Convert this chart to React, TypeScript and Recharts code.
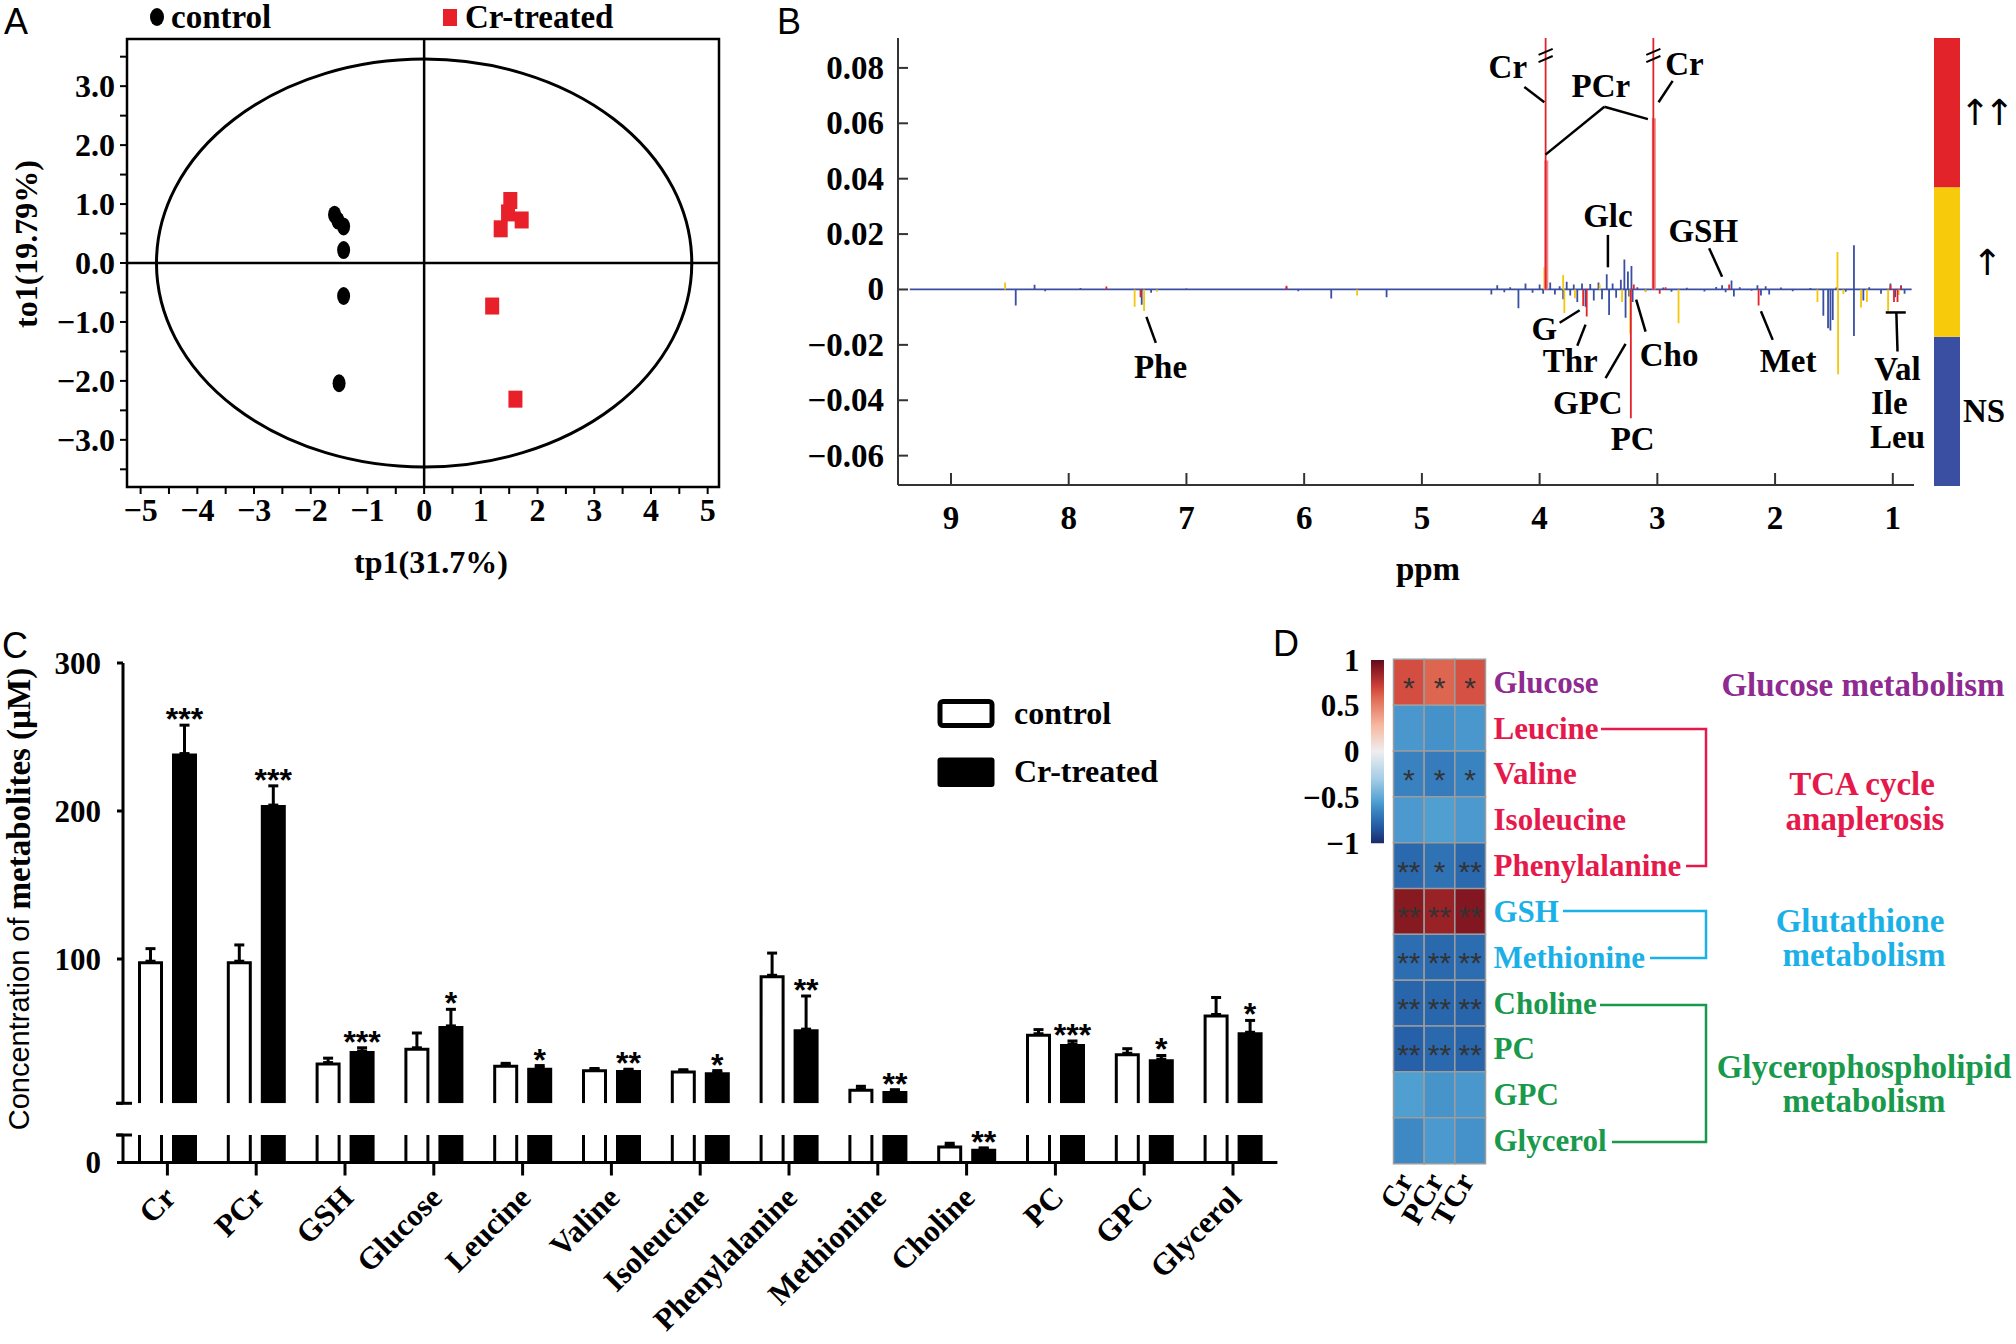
import React from 'react';
import {
  ScatterChart,
  Scatter,
  LineChart,
  Line,
  BarChart,
  Bar,
  XAxis,
  YAxis,
  ReferenceLine,
  ReferenceArea,
  ReferenceDot,
  ErrorBar,
  Cell,
  LabelList,
} from 'recharts';

const SERIF = '"Liberation Serif", "Times New Roman", serif';
const SANS = '"Liberation Sans", Arial, sans-serif';

// ---- A: OPLS-DA score plot ----
const controlScores = [
  { x: -1.58, y: 0.82 },
  { x: -1.52, y: 0.72 },
  { x: -1.42, y: 0.62 },
  { x: -1.42, y: 0.22 },
  { x: -1.42, y: -0.56 },
  { x: -1.5, y: -2.04 },
];
const treatedScores = [
  { x: 1.52, y: 1.06 },
  { x: 1.48, y: 0.85 },
  { x: 1.72, y: 0.73 },
  { x: 1.35, y: 0.58 },
  { x: 1.2, y: -0.73 },
  { x: 1.61, y: -2.31 },
];
const t2Ellipse = { x: 4.72, y: 3.46 };
const scoreXTicks = [-5, -4.5, -4, -3.5, -3, -2.5, -2, -1.5, -1, -0.5, 0, 0.5, 1, 1.5, 2, 2.5, 3, 3.5, 4, 4.5, 5];
const scoreYTicks = [-3.5, -3, -2.5, -2, -1.5, -1, -0.5, 0, 0.5, 1, 1.5, 2, 2.5, 3, 3.5];

// ---- B: colour-coded loadings (ppm, coefficient) ----
const loadingNS = [
  [8.45, -0.0058], [8.29, 0.0017], [8.2, -0.0006], [7.9, 0.0005], [7.38, -0.0055], [7.3, -0.0012],
  [7.0, 0.0004], [6.15, 0.0008], [6.05, -0.0006], [5.77, -0.0033], [5.3, -0.0028], [4.41, -0.0018],
  [4.36, 0.0015], [4.3, -0.001], [4.25, 0.0008], [4.18, -0.0068], [4.12, 0.0022], [4.06, -0.0012],
  [4.0, 0.0018], [3.97, -0.0015], [3.91, 0.0025], [3.87, -0.0018], [3.83, 0.0012], [3.8, -0.0035],
  [3.77, 0.0028], [3.74, -0.0022], [3.71, 0.0018], [3.68, -0.0045], [3.64, 0.0022], [3.61, -0.0062],
  [3.57, 0.002], [3.54, -0.004], [3.5, 0.0025], [3.47, -0.0035], [3.43, 0.0055], [3.41, -0.0092],
  [3.38, 0.0022], [3.35, -0.003], [3.31, 0.0035], [3.28, 0.0108], [3.27, -0.0102], [3.25, 0.0065],
  [3.24, -0.0025], [3.22, 0.0085], [3.21, -0.0045], [3.17, 0.0008], [3.1, -0.0006], [2.95, 0.0007],
  [2.88, -0.0008], [2.75, 0.0006], [2.6, -0.0007], [2.5, 0.0009], [2.45, 0.0015], [2.42, -0.001],
  [2.37, 0.0032], [2.35, -0.0025], [2.3, 0.0008], [2.2, -0.0005], [2.15, 0.0015], [2.12, -0.0022],
  [2.08, 0.0012], [2.05, -0.0018], [1.95, 0.0007], [1.85, -0.0006], [1.7, 0.0005], [1.59, -0.0095],
  [1.55, -0.014], [1.53, -0.0148], [1.51, -0.011], [1.48, 0.0007], [1.4, -0.0008], [1.33, 0.016],
  [1.33, -0.0168], [1.25, -0.004], [1.2, 0.0008], [1.1, -0.0015], [1.02, 0.0022], [0.98, -0.0028],
  [0.93, 0.0015], [0.9, -0.0015],
];
const loadingUp = [
  [8.54, 0.0025], [7.44, -0.0062], [7.36, -0.0078], [7.25, -0.0008], [5.55, -0.0022], [3.96, 0.008],
  [3.8, 0.0052], [3.79, -0.0085], [3.7, -0.0032], [3.49, 0.0018], [3.3, -0.0045], [3.23, -0.016],
  [3.1, -0.001], [2.82, -0.0122], [1.64, -0.0045], [1.47, 0.0135], [1.465, -0.0306], [1.42, -0.0016],
  [1.27, -0.0065], [1.22, -0.0045], [1.04, -0.0078], [0.95, -0.002],
];
const loadingUp2 = [
  [7.68, 0.0011], [7.39, -0.0028], [6.15, 0.0013], [3.949, 0.12], [3.63, -0.006], [3.6, -0.0098],
  [3.034, 0.12], [3.225, -0.0465], [3.2, 0.0018], [2.98, -0.0015], [2.93, 0.0008], [2.39, 0.0018],
  [2.14, -0.0058], [1.02, 0.0015], [0.99, -0.0045], [0.96, -0.0045], [0.93, 0.0012],
];
const loadingPCr = [[3.943, 0.0466], [3.03, 0.0618]];
const spectrumEnds = [9.35, 0.84];
const ppmTicks = [1, 2, 3, 4, 5, 6, 7, 8, 9];
const loadingTicks = [-0.06, -0.04, -0.02, 0, 0.02, 0.04, 0.06, 0.08];
const peakLabels = [
  { text: 'Cr', ppm: 4.27, v: 0.0805 },
  { text: 'PCr', ppm: 3.48, v: 0.0735 },
  { text: 'Cr', ppm: 2.77, v: 0.0814 },
  { text: 'Glc', ppm: 3.42, v: 0.0266 },
  { text: 'GSH', ppm: 2.61, v: 0.0211 },
  { text: 'Phe', ppm: 7.22, v: -0.0279 },
  { text: 'G', ppm: 3.96, v: -0.0141 },
  { text: 'Thr', ppm: 3.74, v: -0.0258 },
  { text: 'Cho', ppm: 2.9, v: -0.0237 },
  { text: 'GPC', ppm: 3.59, v: -0.041 },
  { text: 'PC', ppm: 3.21, v: -0.0541 },
  { text: 'Met', ppm: 1.89, v: -0.0258 },
  { text: 'Val', ppm: 0.96, v: -0.0286 },
  { text: 'Ile', ppm: 1.03, v: -0.041 },
  { text: 'Leu', ppm: 0.96, v: -0.0534 },
];
const leaderLines = [
  [[4.13, 0.0731], [3.96, 0.0676]],
  [[3.95, 0.0487], [3.45, 0.066]],
  [[3.45, 0.066], [3.08, 0.0615]],
  [[2.87, 0.0753], [2.99, 0.0676]],
  [[3.42, 0.0197], [3.42, 0.008]],
  [[2.56, 0.0149], [2.45, 0.0046]],
  [[7.34, -0.0099], [7.26, -0.0193]],
  [[3.83, -0.012], [3.66, -0.0075]],
  [[3.68, -0.0203], [3.61, -0.0127]],
  [[3.1, -0.0152], [3.18, -0.0037]],
  [[3.44, -0.032], [3.27, -0.0196]],
  [[2.02, -0.0182], [2.12, -0.0079]],
  [[1.06, -0.0083], [0.89, -0.0083]],
  [[0.97, -0.0083], [0.96, -0.0224]],
];
const breakMarks = [3.949, 3.034];
const sigLevels = ['NS', '↑', '↑↑'];
const sigSegments = [{ name: 'sig', ns: 1, up: 1, up2: 1 }];

// ---- C: concentrations (µM) ----
const metabolites = ['Cr', 'PCr', 'GSH', 'Glucose', 'Leucine', 'Valine', 'Isoleucine', 'Phenylalanine', 'Methionine', 'Choline', 'PC', 'GPC', 'Glycerol'];
const controlMean = [98.5, 98.5, 30, 40, 28.6, 25.5, 24.6, 89, 12.3, 1.54, 49.5, 36.3, 62.5];
const controlSd = [8.5, 11, 3, 10, 0.9, 0.5, 0.6, 15, 1.7, 0.21, 2.8, 3.1, 11.5];
const treatedMean = [238.8, 204, 37.8, 54.8, 26.5, 25, 23.4, 52.6, 10.8, 1.25, 42.5, 32.3, 50.5];
const treatedSd = [19.2, 13, 2.2, 11.2, 1.5, 0.5, 1.2, 22.4, 0.9, 0.08, 2.1, 2.5, 8];
const significance = ['***', '***', '***', '*', '*', '**', '*', '**', '**', '**', '***', '*', '*'];
const axisBreak = 2.5;

// ---- D: correlation heatmap ----
const corrMetabolites = ['Glucose', 'Leucine', 'Valine', 'Isoleucine', 'Phenylalanine', 'GSH', 'Methionine', 'Choline', 'PC', 'GPC', 'Glycerol'];
const corrColumns = ['Cr', 'PCr', 'TCr'];
const corrCr = [0.67, -0.58, -0.66, -0.57, -0.76, 0.91, -0.74, -0.78, -0.8, -0.55, -0.63];
const corrPCr = [0.6, -0.6, -0.68, -0.55, -0.72, 0.86, -0.76, -0.77, -0.76, -0.59, -0.57];
const corrTCr = [0.66, -0.58, -0.65, -0.57, -0.76, 0.92, -0.75, -0.78, -0.78, -0.58, -0.6];
const corrStarsCr = ['*', '', '*', '', '**', '**', '**', '**', '**', '', ''];
const corrStarsPCr = ['*', '', '*', '', '*', '**', '**', '**', '**', '', ''];
const corrStarsTCr = ['*', '', '*', '', '**', '**', '**', '**', '**', '', ''];
const corrTicks = [-1, -0.5, 0, 0.5, 1];
const pathwayOf = ['glc', 'tca', 'tca', 'tca', 'tca', 'gsh', 'gsh', 'gpl', 'gpl', 'gpl', 'gpl'];

const pathwayColor: Record<string, string> = {
  glc: '#8e2a90',
  tca: '#e5194b',
  gsh: '#1bb0e6',
  gpl: '#18994b',
};

const corrColorStops: [number, string][] = [
  [-1, '#1b2a6b'], [-0.8, '#2560a8'], [-0.65, '#3a83c1'], [-0.55, '#4f9fd1'], [-0.3, '#a3cde6'],
  [0, '#eeeeee'], [0.3, '#f6b59c'], [0.6, '#dd6650'], [0.7, '#d0433b'], [0.9, '#8b1a22'], [1, '#5e0d1c'],
];

const hexRgb = (h: string) => [1, 3, 5].map((i) => parseInt(h.slice(i, i + 2), 16));
const corrColor = (v: number) => {
  for (let i = 0; i < corrColorStops.length - 1; i++) {
    const [v0, c0] = corrColorStops[i];
    const [v1, c1] = corrColorStops[i + 1];
    if (v >= v0 && v <= v1) {
      const t = (v - v0) / (v1 - v0);
      const a = hexRgb(c0);
      const b = hexRgb(c1);
      return `rgb(${a.map((c, k) => Math.round(c + (b[k] - c) * t)).join(',')})`;
    }
  }
  return corrColorStops[corrColorStops.length - 1][1];
};

const minus = (s: string) => s.replace('-', '−');

// ---- tables built from the arrays ----
const stickTrace = (peaks: number[][]) =>
  peaks.flatMap(([p, v]) => [{ x: p, y: 0 }, { x: p, y: v }, { x: p, y: 0 }, { x: p, y: null }]);

const baselineTrace = (peaks: number[][]) => {
  const sorted = [...peaks].sort((a, b) => b[0] - a[0]);
  return [
    { x: spectrumEnds[0], y: 0 },
    ...sorted.flatMap(([p, v]) => [{ x: p, y: 0 }, { x: p, y: v }, { x: p, y: 0 }]),
    { x: spectrumEnds[1], y: 0 },
  ];
};

const upperRows = metabolites.map((name, i) => ({
  name,
  ctrl: controlMean[i] >= axisBreak ? controlMean[i] : null,
  ctrlErr: controlMean[i] >= axisBreak ? [0, controlSd[i]] : null,
  trt: treatedMean[i] >= axisBreak ? treatedMean[i] : null,
  trtErr: treatedMean[i] >= axisBreak ? [0, treatedSd[i]] : null,
}));
const lowerRows = metabolites.map((name, i) => ({
  name,
  ctrl: controlMean[i],
  ctrlErr: controlMean[i] < axisBreak ? [0, controlSd[i]] : null,
  trt: treatedMean[i],
  trtErr: treatedMean[i] < axisBreak ? [0, treatedSd[i]] : null,
}));

const corrByCol = [corrCr, corrPCr, corrTCr];
const heatRows = corrMetabolites.map((name, i) => ({
  name,
  c0: 1,
  c1: 1,
  c2: 1,
  s0: corrStarsCr[i],
  s1: corrStarsPCr[i],
  s2: corrStarsTCr[i],
}));
const colorbarRows = [{ name: 'r', range: [-1, 1] }];

// ---- shapes and ticks ----
const boldSerif = (size: number) => ({ fontFamily: SERIF, fontWeight: 'bold' as const, fontSize: size, fill: '#000' });

const scoreXTick = (p: any) =>
  Number.isInteger(p.payload.value) ? (
    <text x={p.x} y={p.y} textAnchor="middle" dominantBaseline="central" {...boldSerif(32)}>
      {minus(String(p.payload.value))}
    </text>
  ) : (
    <g />
  );

const scoreYTick = (p: any) =>
  Number.isInteger(p.payload.value) ? (
    <text x={p.x} y={p.y} textAnchor="end" dominantBaseline="central" {...boldSerif(32)}>
      {minus(p.payload.value.toFixed(1))}
    </text>
  ) : (
    <g />
  );

const ellipseShape = (p: any) => (
  <ellipse
    cx={p.x + p.width / 2}
    cy={p.y + p.height / 2}
    rx={Math.abs(p.width) / 2}
    ry={Math.abs(p.height) / 2}
    fill="none"
    stroke="#000"
    strokeWidth={3}
  />
);
const ovalShape = (p: any) => <ellipse cx={p.cx} cy={p.cy} rx={6.5} ry={9} fill="#000" />;
const squareShape = (p: any) => <rect x={p.cx - 7} y={p.cy - 8.5} width={14} height={17} fill="#e8202a" />;

const ppmTick = (p: any) => (
  <g>
    <line x1={p.x} x2={p.x} y1={p.y - 33} y2={p.y - 45} stroke="#333" strokeWidth={2} />
    <text x={p.x} y={p.y} textAnchor="middle" dominantBaseline="central" {...boldSerif(33)}>
      {p.payload.value}
    </text>
  </g>
);

const loadingTick = (p: any) => {
  const v = p.payload.value;
  return (
    <g>
      <line x1={p.x + 14} x2={p.x + 24} y1={p.y} y2={p.y} stroke="#333" strokeWidth={2} />
      <text x={p.x} y={p.y} textAnchor="end" dominantBaseline="central" {...boldSerif(33)}>
        {Math.abs(v) < 1e-9 ? '0' : minus(v.toFixed(2))}
      </text>
    </g>
  );
};

const sigTick = (p: any) => {
  const label = sigLevels[Math.floor(p.payload.value)];
  const arrow = label !== 'NS';
  return (
    <text
      x={p.x}
      y={p.y}
      textAnchor="middle"
      dominantBaseline="central"
      fontFamily={arrow ? '"DejaVu Sans", sans-serif' : SERIF}
      fontWeight={arrow ? 'normal' : 'bold'}
      fontSize={arrow ? 36 : 33}
      fill="#000"
      letterSpacing={arrow ? -6 : 0}
    >
      {label}
    </text>
  );
};

const concTick = (p: any) => {
  const v = p.payload.value;
  const axisX = p.x + 22;
  if (v === axisBreak) {
    return <line x1={axisX - 7} x2={axisX + 9} y1={p.y} y2={p.y} stroke="#000" strokeWidth={3} />;
  }
  return (
    <text x={p.x} y={p.y} textAnchor="end" dominantBaseline="central" {...boldSerif(31)}>
      {v}
    </text>
  );
};

const metaboliteTick = (p: any) => (
  <text
    x={p.x + 10}
    y={p.y}
    transform={`rotate(-45 ${p.x + 10} ${p.y})`}
    textAnchor="end"
    {...boldSerif(31)}
  >
    {p.payload.value}
  </text>
);

const openBar = (p: any) => {
  const { x, y, width, height } = p;
  if (!height || height <= 0) return <g />;
  return (
    <path
      d={`M${x + 1.5},${y + height} V${y + 1.5} H${x + width - 1.5} V${y + height}`}
      fill="#fff"
      stroke="#000"
      strokeWidth={3}
    />
  );
};

const starContent = (base: number, show: (v: number) => boolean) => (p: any) => {
  const vb = p.viewBox ?? p;
  const i = metabolites.indexOf(p.value);
  if (i < 0) return null;
  const v = treatedMean[i];
  if (!show(v) || !vb.height) return null;
  const pxPerUnit = vb.height / (v - base);
  const errTop = vb.y - treatedSd[i] * pxPerUnit;
  return (
    <text x={vb.x + vb.width / 2} y={errTop + 5} textAnchor="middle" fontFamily={SANS} fontWeight="bold" fontSize={32} fill="#000">
      {significance[i]}
    </text>
  );
};

const cellStars = (p: any) => {
  if (!p.value) return null;
  const vb = p.viewBox ?? p;
  return (
    <text x={vb.x + vb.width / 2} y={vb.y + vb.height / 2 + 16} textAnchor="middle" fontFamily={SANS} fontSize={30} fill="#333">
      {p.value}
    </text>
  );
};

const heatRowTick = (p: any) => {
  const i = corrMetabolites.indexOf(p.payload.value);
  return (
    <text x={p.x} y={p.y} textAnchor="start" dominantBaseline="central" {...boldSerif(31)} fill={pathwayColor[pathwayOf[i]]}>
      {p.payload.value}
    </text>
  );
};

const heatColTick = (p: any) => (
  <text x={p.x + 5} y={p.y} transform={`rotate(-60 ${p.x + 5} ${p.y})`} textAnchor="end" {...boldSerif(30)}>
    {corrColumns[Math.floor(p.payload.value)]}
  </text>
);

const corrTick = (p: any) => (
  <text x={p.x} y={p.y} textAnchor="end" dominantBaseline="central" {...boldSerif(31)}>
    {minus(String(p.payload.value))}
  </text>
);

const annotationLabel = (text: string) => (p: any) => {
  const vb = p.viewBox;
  return (
    <text x={vb.x + vb.width / 2} y={vb.y + vb.height / 2} textAnchor="middle" dominantBaseline="central" {...boldSerif(33)}>
      {text}
    </text>
  );
};

// ---- panels ----
const ScoresPlot = () => (
  <ScatterChart width={760} height={600} margin={{ top: 39, right: 41, bottom: 53, left: 40 }}>
    <XAxis
      type="number"
      dataKey="x"
      domain={[-5.24, 5.2]}
      ticks={scoreXTicks}
      interval={0}
      allowDataOverflow
      axisLine={false}
      tickLine={{ stroke: '#000', strokeWidth: 2 }}
      tickSize={7}
      tickMargin={16}
      tick={scoreXTick}
      height={60}
    />
    <YAxis
      type="number"
      dataKey="y"
      domain={[-3.8, 3.8]}
      ticks={scoreYTicks}
      interval={0}
      allowDataOverflow
      axisLine={false}
      tickLine={{ stroke: '#000', strokeWidth: 2 }}
      tickSize={7}
      tickMargin={5}
      tick={scoreYTick}
      width={87}
    />
    <ReferenceArea x1={-5.24} x2={5.2} y1={-3.8} y2={3.8} fill="none" stroke="#000" strokeWidth={2.5} fillOpacity={0} ifOverflow="visible" />
    <ReferenceArea x1={-t2Ellipse.x} x2={t2Ellipse.x} y1={-t2Ellipse.y} y2={t2Ellipse.y} ifOverflow="visible" shape={ellipseShape} />
    <ReferenceLine x={0} stroke="#000" strokeWidth={2.5} />
    <ReferenceLine y={0} stroke="#000" strokeWidth={2.5} />
    <Scatter data={controlScores} fill="#000" shape={ovalShape} isAnimationActive={false} />
    <Scatter data={treatedScores} fill="#e8202a" shape={squareShape} isAnimationActive={false} />
  </ScatterChart>
);

const LoadingsPlot = () => (
  <LineChart width={1170} height={600} margin={{ top: 38, right: 16, bottom: 55, left: 38 }}>
    <XAxis
      type="number"
      dataKey="x"
      domain={[0.82, 9.45]}
      reversed
      allowDataOverflow
      ticks={ppmTicks}
      interval={0}
      tickSize={0}
      tickMargin={33}
      tickLine={false}
      axisLine={{ stroke: '#333', strokeWidth: 2 }}
      tick={ppmTick}
      height={60}
    />
    <YAxis
      type="number"
      domain={[-0.0706, 0.0908]}
      allowDataOverflow
      ticks={loadingTicks}
      interval={0}
      tickSize={0}
      tickMargin={14}
      tickLine={false}
      axisLine={{ stroke: '#333', strokeWidth: 2 }}
      tick={loadingTick}
      width={100}
    />
    <Line data={baselineTrace(loadingNS)} dataKey="y" stroke="#3a4ea2" strokeWidth={1.8} dot={false} activeDot={false} isAnimationActive={false} />
    <Line data={stickTrace(loadingUp)} dataKey="y" stroke="#f5c60a" strokeWidth={1.8} dot={false} activeDot={false} isAnimationActive={false} />
    <Line data={stickTrace(loadingPCr)} dataKey="y" stroke="#f08a8a" strokeWidth={4} dot={false} activeDot={false} isAnimationActive={false} />
    <Line data={stickTrace(loadingUp2)} dataKey="y" stroke="#e3232a" strokeWidth={1.8} dot={false} activeDot={false} isAnimationActive={false} />
    {leaderLines.map((seg, i) => (
      <ReferenceLine
        key={`ll${i}`}
        segment={[{ x: seg[0][0], y: seg[0][1] }, { x: seg[1][0], y: seg[1][1] }]}
        stroke="#000"
        strokeWidth={2.5}
        ifOverflow="visible"
      />
    ))}
    {breakMarks.flatMap((p, i) =>
      [-0.0013, 0.0013].map((d, k) => (
        <ReferenceLine
          key={`bm${i}${k}`}
          segment={[{ x: p + 0.06, y: 0.0845 + d - 0.0011 }, { x: p - 0.06, y: 0.0845 + d + 0.0011 }]}
          stroke="#000"
          strokeWidth={2}
          ifOverflow="visible"
        />
      )),
    )}
    {peakLabels.map((l, i) => (
      <ReferenceDot key={`pl${i}`} x={l.ppm} y={l.v} r={1} fill="none" stroke="none" ifOverflow="visible" label={annotationLabel(l.text)} />
    ))}
  </LineChart>
);

const SigBar = () => (
  <BarChart width={82} height={448} data={sigSegments} margin={{ top: 0, right: 0, bottom: 0, left: 0 }} barCategoryGap={0}>
    <XAxis dataKey="name" type="category" hide />
    <YAxis
      type="number"
      orientation="right"
      domain={[0, 3]}
      ticks={[0.5, 1.5, 2.5]}
      interval={0}
      tickSize={0}
      tickMargin={24}
      tickLine={false}
      axisLine={false}
      tick={sigTick}
      width={56}
    />
    <Bar dataKey="ns" stackId="s" fill="#3a4ea2" isAnimationActive={false} />
    <Bar dataKey="up" stackId="s" fill="#f7cb0c" isAnimationActive={false} />
    <Bar dataKey="up2" stackId="s" fill="#e3232a" isAnimationActive={false} />
  </BarChart>
);

const ConcUpper = () => (
  <BarChart width={1300} height={530} data={upperRows} margin={{ top: 63, right: 22.6, bottom: 26.7, left: 23 }} barSize={25} barGap={9}>
    <XAxis dataKey="name" type="category" hide />
    <YAxis
      type="number"
      domain={[axisBreak, 300]}
      ticks={[axisBreak, 100, 200, 300]}
      interval={0}
      allowDataOverflow
      tickSize={6}
      tickMargin={16}
      tickLine={{ stroke: '#000', strokeWidth: 3 }}
      axisLine={{ stroke: '#000', strokeWidth: 3 }}
      tick={concTick}
      width={100}
    />
    <Bar dataKey="ctrl" shape={openBar} isAnimationActive={false}>
      <ErrorBar dataKey="ctrlErr" width={5} strokeWidth={3} stroke="#000" direction="y" />
    </Bar>
    <Bar dataKey="trt" fill="#000" isAnimationActive={false}>
      <ErrorBar dataKey="trtErr" width={5} strokeWidth={3} stroke="#000" direction="y" />
      <LabelList dataKey="name" content={starContent(axisBreak, (v) => v >= axisBreak)} />
    </Bar>
  </BarChart>
);

const ConcLower = () => (
  <BarChart width={1300} height={234} data={lowerRows} margin={{ top: 25, right: 22.6, bottom: 6.5, left: 23 }} barSize={25} barGap={9}>
    <XAxis
      dataKey="name"
      type="category"
      interval={0}
      tickSize={13}
      tickMargin={24}
      tickLine={{ stroke: '#000', strokeWidth: 3 }}
      axisLine={{ stroke: '#000', strokeWidth: 3 }}
      tick={metaboliteTick}
      height={175}
    />
    <YAxis
      type="number"
      domain={[0, axisBreak]}
      ticks={[0, axisBreak]}
      interval={0}
      allowDataOverflow
      tickSize={6}
      tickMargin={16}
      tickLine={{ stroke: '#000', strokeWidth: 3 }}
      axisLine={{ stroke: '#000', strokeWidth: 3 }}
      tick={concTick}
      width={100}
    />
    <Bar dataKey="ctrl" shape={openBar} isAnimationActive={false}>
      <ErrorBar dataKey="ctrlErr" width={5} strokeWidth={3} stroke="#000" direction="y" />
    </Bar>
    <Bar dataKey="trt" fill="#000" isAnimationActive={false}>
      <ErrorBar dataKey="trtErr" width={5} strokeWidth={3} stroke="#000" direction="y" />
      <LabelList dataKey="name" content={starContent(0, (v) => v < axisBreak)} />
    </Bar>
  </BarChart>
);

const Heatmap = () => (
  <BarChart layout="vertical" width={746} height={660} data={heatRows} margin={{ top: 29.3, right: 300.5, bottom: 66.5, left: 123.5 }} barCategoryGap={0}>
    <XAxis
      type="number"
      domain={[0, 3]}
      ticks={[0.5, 1.5, 2.5]}
      interval={0}
      tickSize={0}
      tickMargin={17}
      tickLine={false}
      axisLine={false}
      tick={heatColTick}
      height={60}
    />
    <YAxis
      type="category"
      dataKey="name"
      orientation="right"
      interval={0}
      tickSize={0}
      tickMargin={8}
      tickLine={false}
      axisLine={false}
      tick={heatRowTick}
      width={230}
    />
    {corrColumns.map((col, ci) => (
      <Bar key={col} dataKey={`c${ci}`} stackId="h" isAnimationActive={false}>
        {heatRows.map((r, ri) => (
          <Cell key={r.name} fill={corrColor(corrByCol[ci][ri])} stroke="#9c9c9c" strokeWidth={1.5} />
        ))}
        <LabelList dataKey={`s${ci}`} content={cellStars} />
      </Bar>
    ))}
  </BarChart>
);

const CorrColorbar = () => (
  <BarChart width={84.2} height={220} data={colorbarRows} margin={{ top: 20, right: 0, bottom: 16.7, left: 0 }} barCategoryGap={0}>
    <defs>
      <linearGradient id="corrGrad" x1="0" y1="0" x2="0" y2="1">
        {[...corrColorStops].reverse().map(([v, c]) => (
          <stop key={v} offset={`${((1 - v) / 2) * 100}%`} stopColor={c} />
        ))}
      </linearGradient>
    </defs>
    <XAxis dataKey="name" type="category" hide />
    <YAxis
      type="number"
      domain={[-1, 1]}
      ticks={corrTicks}
      interval={0}
      tickSize={0}
      tickMargin={11.5}
      tickLine={false}
      axisLine={false}
      tick={corrTick}
      width={71}
    />
    <Bar dataKey="range" fill="url(#corrGrad)" isAnimationActive={false} />
  </BarChart>
);

const Overlay = () => (
  <svg width={2016} height={1344} style={{ position: 'absolute', left: 0, top: 0, pointerEvents: 'none' }}>
    {[['A', 16, 21], ['B', 789, 21], ['C', 15, 645], ['D', 1286, 643]].map(([t, x, y]) => (
      <text key={t as string} x={x as number} y={y as number} textAnchor="middle" dominantBaseline="central" fontFamily={SANS} fontSize={36} fill="#000">
        {t}
      </text>
    ))}
    {/* A legend + titles */}
    <ellipse cx={157} cy={17} rx={7} ry={9} fill="#000" />
    <text x={171} y={17} dominantBaseline="central" {...boldSerif(33)}>control</text>
    <rect x={443} y={9} width={14} height={17} fill="#e8202a" />
    <text x={465} y={17} dominantBaseline="central" {...boldSerif(33)}>Cr-treated</text>
    <text x={431} y={562} textAnchor="middle" dominantBaseline="central" {...boldSerif(32)}>tp1(31.7%)</text>
    <text x={26} y={244} textAnchor="middle" dominantBaseline="central" transform="rotate(-90 26 244)" {...boldSerif(32)}>
      to1(19.79%)
    </text>
    {/* B */}
    <text x={1428} y={569} textAnchor="middle" dominantBaseline="central" {...boldSerif(33)}>ppm</text>
    {/* C legend + y title */}
    <rect x={940} y={701.5} width={52} height={24} rx={3} fill="#fff" stroke="#000" strokeWidth={5} />
    <text x={1014} y={713} dominantBaseline="central" {...boldSerif(32)}>control</text>
    <rect x={937.5} y={757.5} width={57} height={29.5} rx={3} fill="#000" />
    <text x={1014} y={771} dominantBaseline="central" {...boldSerif(32)}>Cr-treated</text>
    <text x={19} y={899} textAnchor="middle" dominantBaseline="central" transform="rotate(-90 19 899)" fill="#000">
      <tspan fontFamily={SANS} fontSize={29}>Concentration of </tspan>
      <tspan fontFamily={SERIF} fontWeight="bold" fontSize={33}>metabolites (µM)</tspan>
    </text>
    {/* D brackets + pathways */}
    <path d="M1601,729 H1706 V866 H1686" fill="none" stroke={pathwayColor.tca} strokeWidth={2.5} />
    <path d="M1563,911 H1706 V958 H1650" fill="none" stroke={pathwayColor.gsh} strokeWidth={2.5} />
    <path d="M1600,1005 H1706 V1142 H1612" fill="none" stroke={pathwayColor.gpl} strokeWidth={2.5} />
    {[
      ['Glucose metabolism', 1863, 685, 'glc'],
      ['TCA cycle', 1862, 784, 'tca'],
      ['anaplerosis', 1865, 819, 'tca'],
      ['Glutathione', 1860, 921, 'gsh'],
      ['metabolism', 1864, 955, 'gsh'],
      ['Glycerophospholipid', 1864, 1067, 'gpl'],
      ['metabolism', 1864, 1101, 'gpl'],
    ].map(([t, x, y, g], i) => (
      <text key={i} x={x as number} y={y as number} textAnchor="middle" dominantBaseline="central" {...boldSerif(33)} fill={pathwayColor[g as string]}>
        {t}
      </text>
    ))}
  </svg>
);

export default function App() {
  return (
    <div style={{ position: 'absolute', left: 0, top: 0, width: 2016, height: 1344, background: '#fff', overflow: 'hidden' }}>
      <div style={{ position: 'absolute', left: 0, top: 0 }}>
        <ScoresPlot />
      </div>
      <div style={{ position: 'absolute', left: 760, top: 0 }}>
        <LoadingsPlot />
      </div>
      <div style={{ position: 'absolute', left: 1934, top: 38 }}>
        <SigBar />
      </div>
      <div style={{ position: 'absolute', left: 0, top: 600 }}>
        <ConcUpper />
      </div>
      <div style={{ position: 'absolute', left: 0, top: 1110 }}>
        <ConcLower />
      </div>
      <div style={{ position: 'absolute', left: 1270, top: 630 }}>
        <Heatmap />
      </div>
      <div style={{ position: 'absolute', left: 1300, top: 640 }}>
        <CorrColorbar />
      </div>
      <Overlay />
    </div>
  );
}
